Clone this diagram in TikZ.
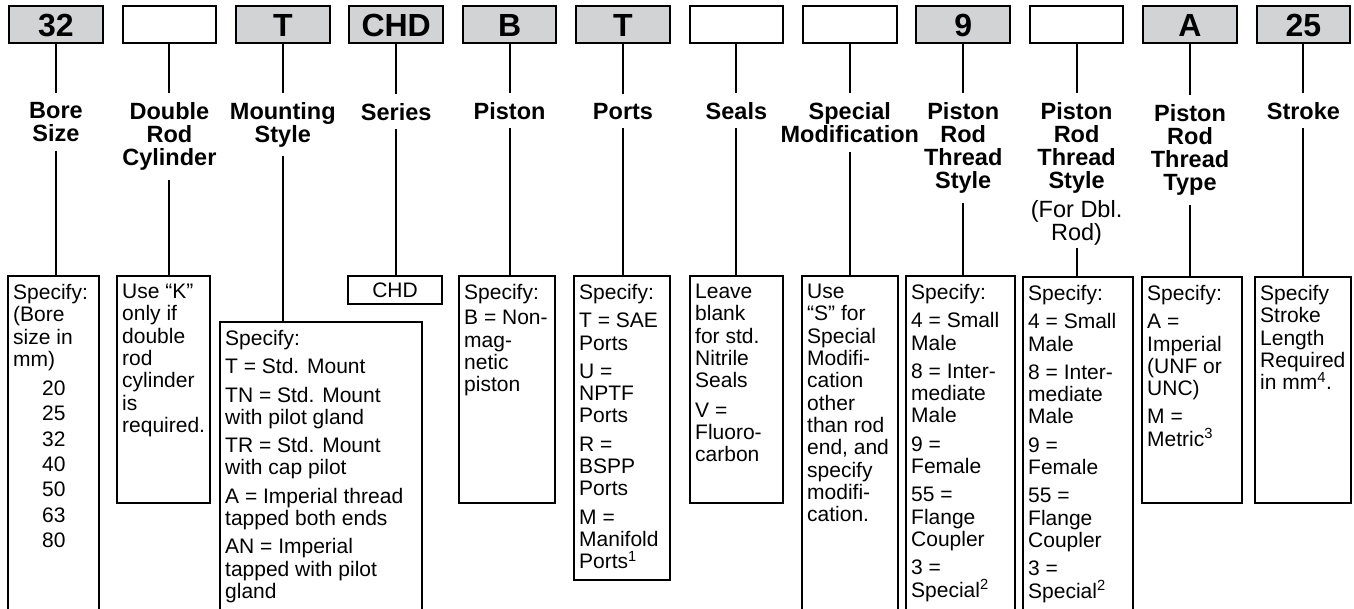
\documentclass[tikz,border=0pt]{standalone}
\usepackage{fontspec}
\setmainfont{Liberation Sans}
\definecolor{boxgray}{RGB}{209,211,212}
\tikzset{
 topbox/.style={draw, line width=2pt, fill=boxgray, minimum width=93.5pt, minimum height=36.7pt, inner sep=0pt, outer sep=0pt, font=\fontsize{32}{34}\selectfont\bfseries, text height=23.4pt, text depth=0pt},
 head/.style={align=center, inner sep=0pt, outer xsep=0pt, outer ysep=9pt, anchor=north, font=\fontsize{23.5}{23.3}\selectfont\bfseries},
 conn/.style={line width=2pt},
 bbox/.style={draw, line width=1.3pt, inner sep=0pt, outer sep=0pt, anchor=north west},
 btxt/.style={align=left, inner sep=0pt, anchor=north west, font=\fontsize{21}{22.3}\selectfont},
}
\begin{document}
\begin{tikzpicture}[x=1pt,y=-1pt]
\useasboundingbox (0,0) rectangle (1354,608);
% top boxes
\node[topbox] (top1) at (56,24.3) {32};
\node[topbox, fill=white] (top2) at (169.4,24.3) {};
\node[topbox] (top3) at (282.8,24.3) {T};
\node[topbox] (top4) at (396.2,24.3) {CHD};
\node[topbox] (top5) at (509.6,24.3) {B};
\node[topbox] (top6) at (623,24.3) {T};
\node[topbox, fill=white] (top7) at (736.4,24.3) {};
\node[topbox, fill=white] (top8) at (849.8,24.3) {};
\node[topbox] (top9) at (963.2,24.3) {9};
\node[topbox, fill=white] (top10) at (1076.6,24.3) {};
\node[topbox] (top11) at (1190,24.3) {A};
\node[topbox] (top12) at (1303.4,24.3) {25};
% headings
\node[head] (h1) at (56,93) {Bore\\Size};
\node[head] (h2) at (169.4,93) {Double\\Rod\\Cylinder};
\node[head] (h3) at (282.8,93) {Mounting\\Style};
\node[head] (h4) at (396.2,94) {Series};
\node[head] (h5) at (509.6,93) {Piston};
\node[head] (h6) at (623,94) {Ports};
\node[head] (h7) at (736.4,93) {Seals};
\node[head] (h8) at (849.8,93) {Special\\Modification};
\node[head] (h9) at (963.2,93) {Piston\\Rod\\Thread\\Style};
\node[head] (h10) at (1076.6,93) {Piston\\Rod\\Thread\\Style\\[5pt]{\mdseries (For Dbl.}\\{\mdseries Rod)}};
\node[head] (h11) at (1190,95) {Piston\\Rod\\Thread\\Type};
\node[head] (h12) at (1303.4,93) {Stroke};
% bottom boxes
\node[bbox, minimum width=91pt, minimum height=336pt] (b1) at (8,276) {};
\node[bbox, minimum width=93pt, minimum height=227pt] (b2) at (117,276) {};
\node[bbox, minimum width=202pt, minimum height=290pt] (b3) at (220,322) {};
\node[bbox, minimum width=94pt, minimum height=28pt, font=\fontsize{21}{22.3}\selectfont] (b4) at (348,276) {CHD};
\node[bbox, minimum width=96pt, minimum height=227pt] (b5) at (459,276) {};
\node[bbox, minimum width=96pt, minimum height=304pt] (b6) at (574,276) {};
\node[bbox, minimum width=93pt, minimum height=227pt] (b7) at (690,276) {};
\node[bbox, minimum width=96pt, minimum height=336pt] (b8) at (802,276) {};
\node[bbox, minimum width=109pt, minimum height=336pt] (b9) at (906,276) {};
\node[bbox, minimum width=110pt, minimum height=336pt] (b10) at (1023,277) {};
\node[bbox, minimum width=100pt, minimum height=226pt] (b11) at (1142,277) {};
\node[bbox, minimum width=96pt, minimum height=226pt] (b12) at (1255,277) {};
% box texts
\node[btxt] (t1) at ([shift={(5,8)}]b1.north west) {Specify:\\(Bore\\size in\\mm)\\[7pt]\hspace*{29pt}20\\[3pt]\hspace*{29pt}25\\[3pt]\hspace*{29pt}32\\[3pt]\hspace*{29pt}40\\[3pt]\hspace*{29pt}50\\[3pt]\hspace*{29pt}63\\[3pt]\hspace*{29pt}80};
\node[btxt] (t2) at ([shift={(5,8)}]b2.north west) {Use “K”\\only if\\double\\rod\\cylinder\\is\\required.};
\node[btxt] (t3) at ([shift={(5,8)}]b3.north west) {Specify:\\[6pt]T = Std. Mount\\[6pt]TN = Std. Mount\\with pilot gland\\[6pt]TR = Std. Mount\\with cap pilot\\[6pt]A = Imperial thread\\tapped both ends\\[6pt]AN = Imperial\\tapped with pilot\\gland};
\node[btxt] (t5) at ([shift={(5,8)}]b5.north west) {Specify:\\[3pt]B = Non-\\mag-\\netic\\piston};
\node[btxt] (t6) at ([shift={(5,8)}]b6.north west) {Specify:\\[6pt]T = SAE\\Ports\\[6pt]U =\\NPTF\\Ports\\[6pt]R =\\BSPP\\Ports\\[6pt]M =\\Manifold\\Ports\textsuperscript{1}};
\node[btxt] (t7) at ([shift={(5,8)}]b7.north west) {Leave\\blank\\for std.\\Nitrile\\Seals\\[7pt]V =\\Fluoro-\\carbon};
\node[btxt] (t8) at ([shift={(5,8)}]b8.north west) {Use\\“S” for\\Special\\Modifi-\\cation\\other\\than rod\\end, and\\specify\\modifi-\\cation.};
\node[btxt] (t9) at ([shift={(5,8)}]b9.north west) {Specify:\\[6pt]4 = Small\\Male\\[6pt]8 = Inter-\\mediate\\Male\\[6pt]9 =\\Female\\[6pt]55 =\\Flange\\Coupler\\[6pt]3 =\\Special\textsuperscript{2}};
\node[btxt] (t10) at ([shift={(5,8)}]b10.north west) {Specify:\\[6pt]4 = Small\\Male\\[6pt]8 = Inter-\\mediate\\Male\\[6pt]9 =\\Female\\[6pt]55 =\\Flange\\Coupler\\[6pt]3 =\\Special\textsuperscript{2}};
\node[btxt] (t11) at ([shift={(5,8)}]b11.north west) {Specify:\\[6pt]A =\\Imperial\\(UNF or\\UNC)\\[6pt]M =\\Metric\textsuperscript{3}};
\node[btxt] (t12) at ([shift={(5,8)}]b12.north west) {Specify\\Stroke\\Length\\Required\\in mm\textsuperscript{4}.};
% connectors
\foreach \i in {1,...,12} {\draw[conn] (top\i.south) -- (h\i.north);}
\foreach \i in {1,...,9,11,12} {\draw[conn] (h\i.south) -- (h\i.south |- b\i.north);}
\draw[conn] ([yshift=6pt]h10.south) -- (h10.south |- b10.north);
\end{tikzpicture}
\end{document}
